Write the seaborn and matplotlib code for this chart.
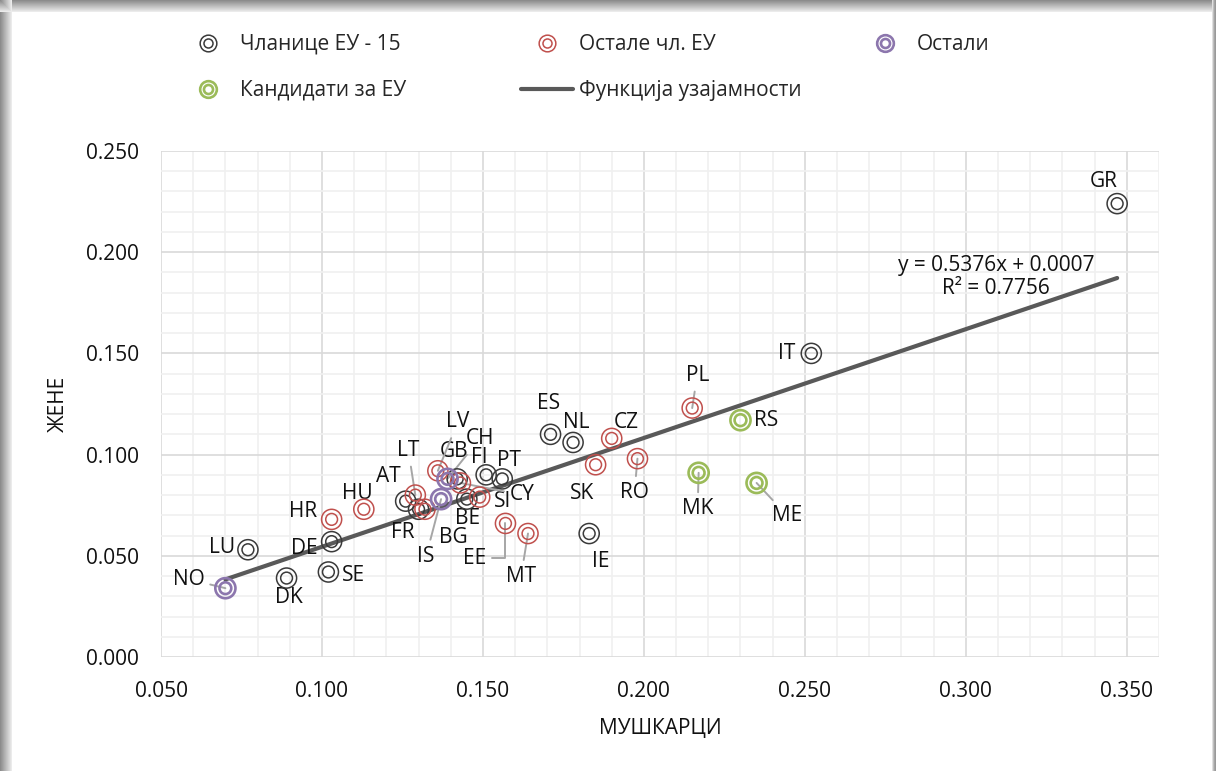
import numpy as np
import pandas as pd
import matplotlib
matplotlib.use('Agg')
import matplotlib.pyplot as plt
import seaborn as sns
from matplotlib.lines import Line2D
from matplotlib.patches import Rectangle
from matplotlib.ticker import MultipleLocator, FormatStrFormatter

# Подаци
countries = ['GR', 'IT', 'ES', 'NL', 'IE', 'PT', 'FI', 'GB', 'BE', 'AT', 'FR', 'DE', 'LU', 'SE', 'DK',
             'PL', 'CZ', 'SK', 'RO', 'MT', 'EE', 'SI', 'CY', 'LV', 'LT', 'BG', 'HU', 'HR',
             'CH', 'IS', 'NO',
             'RS', 'MK', 'ME']
groups = (['Чланице ЕУ - 15'] * 15 + ['Остале чл. ЕУ'] * 13
          + ['Остали'] * 3 + ['Кандидати за ЕУ'] * 3)
men = [0.347, 0.252, 0.171, 0.178, 0.183, 0.156, 0.151, 0.142, 0.145, 0.126, 0.130, 0.103, 0.077, 0.102, 0.089,
       0.215, 0.190, 0.185, 0.198, 0.164, 0.157, 0.149, 0.143, 0.136, 0.129, 0.132, 0.113, 0.103,
       0.139, 0.137, 0.070,
       0.230, 0.217, 0.235]
women = [0.224, 0.150, 0.110, 0.106, 0.061, 0.088, 0.090, 0.088, 0.078, 0.077, 0.073, 0.057, 0.053, 0.042, 0.039,
         0.123, 0.108, 0.095, 0.098, 0.061, 0.066, 0.079, 0.086, 0.092, 0.080, 0.073, 0.073, 0.068,
         0.088, 0.078, 0.034,
         0.117, 0.091, 0.086]
slope, intercept, r2 = 0.5376, 0.0007, 0.7756

df = pd.DataFrame({'country': countries, 'group': groups, 'men': men, 'women': women})

# Стилови
colors = {
    'Чланице ЕУ - 15': '#3a3a3a',
    'Остале чл. ЕУ': '#c0504d',
    'Остали': '#8c76ad',
    'Кандидати за ЕУ': '#9bbb59',
}
ring_lw = {'Чланице ЕУ - 15': 1.1, 'Остале чл. ЕУ': 1.1, 'Остали': 1.9, 'Кандидати за ЕУ': 1.9}

# помераји натписа (пиксели) и да ли има линију-водич
label_off = {
    'GR': (-13, 22), 'IT': (-25, 0), 'RS': (26, 0), 'PL': (5, 33), 'ME': (31, -33),
    'MK': (-1, -36), 'RO': (-3, -34), 'CZ': (15, 16), 'SK': (-14, -29), 'NL': (3, 20),
    'ES': (-2, 31), 'IE': (12, -28), 'MT': (-7, -43), 'EE': (-31, -35), 'PT': (7, 18),
    'CY': (62, -12), 'SI': (23, -4), 'BE': (1, -19), 'BG': (28, -28), 'IS': (-15, -57),
    'FR': (-16, -23), 'AT': (-17, 25), 'LT': (-7, 45), 'LV': (20, 49), 'GB': (-3, 27),
    'FI': (-7, 17), 'CH': (32, 40), 'HU': (-7, 16), 'HR': (-29, 8), 'DE': (-27, -7),
    'LU': (-26, 2), 'SE': (25, -4), 'DK': (2, -19), 'NO': (-37, 9),
}
leaders = ['PL', 'ME', 'MK', 'RO', 'MT', 'EE', 'CY', 'IS', 'LT', 'LV', 'CH', 'NO']

sns.set_style('white')
plt.rcParams['font.family'] = ['Open Sans', 'DejaVu Sans']
FS = 15
EM = FS * 100 / 72  # пиксела по em

fig = plt.figure(figsize=(12.16, 7.71), dpi=100)
ax = fig.add_axes([161 / 1216, 114 / 771, 998 / 1216, 506 / 771])

# оквир графикона
for i, g in enumerate(np.linspace(0.55, 0.92, 12)):
    fig.add_artist(Rectangle((i / 1216, 0), 1 / 1216, 1, transform=fig.transFigure,
                             color=str(g), lw=0, zorder=-5))
    fig.add_artist(Rectangle((0, 1 - (i + 1) / 771), 1, 1 / 771, transform=fig.transFigure,
                             color=str(g), lw=0, zorder=-5))
for i, g in enumerate([0.88, 0.75, 0.65, 0.6]):
    fig.add_artist(Rectangle((1 - (4 - i) / 1216, 0), 1 / 1216, 1, transform=fig.transFigure,
                             color=str(g), lw=0, zorder=-5))

# функција узајамности
xs = np.array([min(men), max(men)])
sns.lineplot(x=xs, y=slope * xs + intercept, color='#595959', lw=3, ax=ax, zorder=2)

# тачке – двоструки кругови
for grp, col in colors.items():
    sub = df[df['group'] == grp]
    for size in (210, 72):
        sns.scatterplot(data=sub, x='men', y='women', s=size, marker='o',
                        facecolor='none', edgecolor=col, linewidth=ring_lw[grp],
                        ax=ax, zorder=4, legend=False)

# натписи земаља
for _, row in df.iterrows():
    dx, dy = label_off[row['country']]
    kw = {}
    if row['country'] in leaders:
        cs = 'angle,angleA=0,angleB=90,rad=0' if row['country'] == 'EE' else 'arc3'
        kw['arrowprops'] = dict(arrowstyle='-', color='#a6a6a6', lw=1.4,
                                shrinkA=2, shrinkB=0, connectionstyle=cs)
    ax.annotate(row['country'], (row['men'], row['women']), xytext=(dx, dy),
                textcoords='offset pixels', ha='center', va='center',
                fontsize=FS, color='#111111', zorder=3, **kw)

ax.text(0.3093, 0.1877, f'y = {slope:.4f}x + {intercept:.4f}\nR² = {r2:.4f}',
        ha='center', va='center', multialignment='center', fontsize=FS, color='#111111',
        linespacing=1.15)

# осе
ax.set_xlim(0.05, 0.36)
ax.set_ylim(0, 0.25)
ax.xaxis.set_major_locator(MultipleLocator(0.05))
ax.xaxis.set_minor_locator(MultipleLocator(0.01))
ax.yaxis.set_major_locator(MultipleLocator(0.05))
ax.yaxis.set_minor_locator(MultipleLocator(0.01))
ax.xaxis.set_major_formatter(FormatStrFormatter('%.3f'))
ax.yaxis.set_major_formatter(FormatStrFormatter('%.3f'))
ax.grid(which='minor', color='#f0f0f0', lw=1.2, zorder=0)
ax.grid(which='major', color='#d9d9d9', lw=1.2, zorder=0)
ax.set_axisbelow(True)
for s in ax.spines.values():
    s.set_visible(False)
ax.tick_params(which='both', length=0, labelsize=FS, labelcolor='#111111')
ax.tick_params(axis='x', pad=17)
ax.tick_params(axis='y', pad=16)
ax.set_xlabel('МУШКАРЦИ', fontsize=FS, labelpad=12, color='#111111')
ax.set_ylabel('ЖЕНЕ', fontsize=FS, labelpad=12, color='#111111')

# легенда – по једна колона
def ring_handle(grp):
    col = colors[grp]
    return (Line2D([], [], ls='none', marker='o', ms=12, mfc='none', mec=col, mew=ring_lw[grp]),
            Line2D([], [], ls='none', marker='o', ms=6.5, mfc='none', mec=col, mew=ring_lw[grp]))

trend = Line2D([], [], color='#595959', lw=3)
columns = [
    ([ring_handle('Чланице ЕУ - 15'), ring_handle('Кандидати за ЕУ')],
     ['Чланице ЕУ - 15', 'Кандидати за ЕУ'], 208),
    ([ring_handle('Остале чл. ЕУ'), trend], ['Остале чл. ЕУ', 'Функција узајамности'], 547),
    ([ring_handle('Остали')], ['Остали'], 885),
]
for hs, ls, xc in columns:
    leg = fig.legend(hs, ls, loc='upper left', bbox_to_anchor=((xc - 26) / 1216, 1 - 34 / 771),
                     frameon=False, fontsize=FS, handlelength=52 / EM, handletextpad=0.3,
                     labelspacing=1.2, borderpad=0, borderaxespad=0)

fig.savefig('out.png', dpi=100)
